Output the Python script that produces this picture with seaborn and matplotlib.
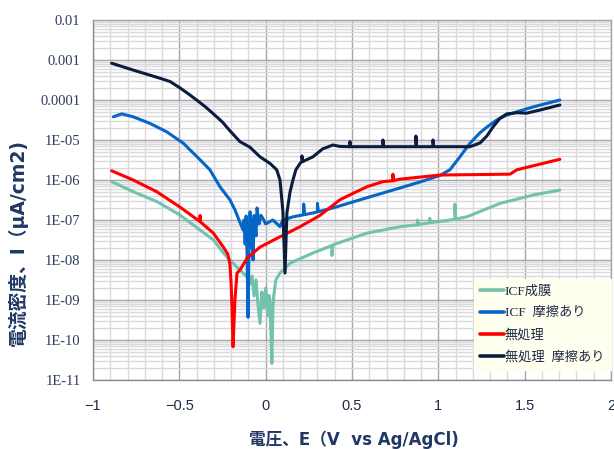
import matplotlib
matplotlib.use("Agg")
import matplotlib.pyplot as plt
import matplotlib.ticker as mticker
import numpy as np
import pandas as pd
import seaborn as sns

# Estilo
sns.set_style("white")
plt.rcParams['font.family'] = ['Liberation Sans', 'Noto Sans CJK JP', 'DejaVu Sans']

# --- datos: potencial E (V) y densidad de corriente I ---
series_names = ['ICF成膜', 'ICF  摩擦あり', '無処理', '無処理  摩擦あり']
series_colors = ['#72C2AC', '#0566C8', '#FF0000', '#0B1D3C']

e_icf = [-0.892, -0.767, -0.631, -0.496, -0.380, -0.303, -0.245, -0.207, -0.149,
         -0.108, -0.091, -0.079, -0.068, -0.056, -0.045, -0.033, -0.022, -0.010,
         0.001, 0.013, 0.019, 0.024, 0.036, 0.042, 0.047, 0.059, 0.083, 0.141,
         0.274, 0.384, 0.384, 0.390, 0.587, 0.778, 0.880, 0.880, 0.885, 0.950,
         0.950, 0.955, 1.067, 1.096, 1.096, 1.100, 1.165, 1.357, 1.548, 1.704]
i_icf = [9.1e-7, 5.1e-7, 2.9e-7, 1.33e-7, 5.6e-8, 3.2e-8, 1.5e-8, 1.0e-8, 5.6e-9,
         3.8e-9, 2.5e-9, 4.0e-9, 1.26e-9, 3.2e-9, 8.0e-10, 2.6e-10, 1.6e-9, 6.3e-10,
         2.0e-9, 4.0e-10, 1.3e-9, 1.0e-9, 2.6e-11, 6.3e-10, 1.3e-9, 3.2e-9, 4.7e-9, 8.3e-9,
         1.5e-8, 2.3e-8, 1.3e-8, 2.4e-8, 4.7e-8, 6.8e-8, 7.6e-8, 1.0e-7, 7.7e-8, 8.5e-8,
         1.1e-7, 8.6e-8, 1.0e-7, 1.05e-7, 2.5e-7, 1.06e-7, 1.2e-7, 2.6e-7, 4.2e-7, 5.6e-7]

e_icf_fric = [-0.882, -0.834, -0.767, -0.670, -0.573, -0.477, -0.380, -0.323, -0.265,
              -0.207, -0.178, -0.131, -0.125, -0.119, -0.113, -0.108, -0.102, -0.096,
              -0.090, -0.085, -0.079, -0.073, -0.067, -0.056, -0.050, -0.038, -0.027,
              -0.016, 0.000, 0.042, 0.083, 0.100, 0.158, 0.199, 0.220, 0.220, 0.225,
              0.274, 0.300, 0.300, 0.305, 0.390, 0.546, 0.737, 0.893, 1.009, 1.067,
              1.125, 1.183, 1.240, 1.281, 1.340, 1.397, 1.470, 1.548, 1.704]
i_icf_fric = [3.8e-5, 4.5e-5, 3.8e-5, 2.6e-5, 1.6e-5, 8.3e-6, 3.2e-6, 1.8e-6, 6.8e-7,
              3.2e-7, 1.8e-7, 5.6e-8, 1.0e-7, 2.5e-8, 1.26e-7, 1.6e-8, 3.7e-10, 3.2e-8,
              1.6e-7, 2.0e-8, 1.0e-7, 1.0e-8, 1.3e-7, 4.0e-8, 2.0e-7, 8.0e-8, 1.3e-7,
              1.1e-7, 8.0e-8, 1.0e-7, 6.8e-8, 1.0e-7, 1.2e-7, 1.3e-7, 1.35e-7, 2.5e-7, 1.36e-7,
              1.5e-7, 1.6e-7, 2.6e-7, 1.62e-7, 2.0e-7, 3.2e-7, 5.6e-7, 8.9e-7, 1.3e-6, 1.8e-6,
              3.8e-6, 8.3e-6, 1.5e-5, 2.1e-5, 3.2e-5, 4.2e-5, 5.3e-5, 6.7e-5, 1.0e-4]

e_plain = [-0.892, -0.767, -0.631, -0.496, -0.380, -0.380, -0.378, -0.303, -0.245,
           -0.219, -0.207, -0.200, -0.195, -0.189, -0.178, -0.166, -0.149, -0.108,
           -0.033, 0.083, 0.199, 0.314, 0.430, 0.500, 0.587, 0.679, 0.737, 0.737,
           0.740, 0.778, 1.009, 1.415, 1.455, 1.704]
i_plain = [1.7e-6, 1.0e-6, 5.1e-7, 2.1e-7, 9.1e-8, 1.3e-7, 9.0e-8, 4.7e-8, 2.1e-8,
           1.4e-8, 7.9e-9, 2.5e-9, 6.3e-10, 6.8e-11, 1.0e-9, 4.7e-9, 5.6e-9, 1.1e-8,
           2.1e-8, 3.8e-8, 6.8e-8, 1.3e-7, 3.2e-7, 4.5e-7, 6.8e-7, 9.1e-7, 9.6e-7, 1.4e-6,
           9.7e-7, 1.05e-6, 1.33e-6, 1.4e-6, 1.8e-6, 3.3e-6]

e_plain_fric = [-0.892, -0.767, -0.612, -0.554, -0.496, -0.450, -0.400, -0.350, -0.300,
                -0.250, -0.207, -0.149, -0.091, -0.033, 0.025, 0.064, 0.083, 0.100,
                0.112, 0.123, 0.141, 0.158, 0.175, 0.199, 0.210, 0.210, 0.215, 0.274,
                0.330, 0.390, 0.430, 0.488, 0.488, 0.492, 0.679, 0.679, 0.683, 0.870,
                0.870, 0.874, 0.969, 0.969, 0.973, 1.183, 1.241, 1.281, 1.316, 1.357,
                1.397, 1.455, 1.513, 1.588, 1.704]
i_plain_fric = [8.3e-4, 5.6e-4, 3.5e-4, 2.9e-4, 2.0e-4, 1.45e-4, 1.0e-4, 6.8e-5, 4.4e-5,
                2.8e-5, 1.7e-5, 9.1e-6, 6.6e-6, 3.8e-6, 2.6e-6, 1.8e-6, 1.0e-6, 1.6e-7,
                4.7e-9, 1.5e-7, 5.0e-7, 1.0e-6, 1.8e-6, 2.6e-6, 2.9e-6, 4.0e-6, 2.9e-6, 3.8e-6,
                6.0e-6, 7.5e-6, 6.9e-6, 6.8e-6, 9.1e-6, 6.8e-6, 6.8e-6, 1.0e-5, 6.8e-6, 6.8e-6,
                1.26e-5, 6.8e-6, 6.8e-6, 1.0e-5, 6.8e-6, 6.8e-6, 8.4e-6, 1.26e-5, 2.1e-5, 3.5e-5,
                4.5e-5, 4.8e-5, 4.7e-5, 5.6e-5, 7.5e-5]

x_ticks = [-1, -0.5, 0, 0.5, 1, 1.5, 2]
x_tick_labels = ['\u22121', '\u22120.5', '0', '0.5', '1', '1.5', '2']
y_ticks = [1e-2, 1e-3, 1e-4, 1e-5, 1e-6, 1e-7, 1e-8, 1e-9, 1e-10, 1e-11]
y_tick_labels = ['0.01', '0.001', '0.0001', '1E-05', '1E-06', '1E-07', '1E-08',
                 '1E-09', '1E-10', '1E-11']

# tabla larga para seaborn
frames = []
for name, e, i in zip(series_names,
                      [e_icf, e_icf_fric, e_plain, e_plain_fric],
                      [i_icf, i_icf_fric, i_plain, i_plain_fric]):
    frames.append(pd.DataFrame({'E': e, 'I': i, 'serie': name}))
df = pd.concat(frames, ignore_index=True)

fig = plt.figure(figsize=(6.14, 4.49), dpi=100)
ax = fig.add_axes([93 / 614, 1 - 380 / 449, 518 / 614, 360 / 449])

ax.set_yscale('log')
ax.set_xlim(-1, 2)
ax.set_ylim(1e-11, 1e-2)

# cuadrícula estilo Excel
ax.xaxis.set_minor_locator(mticker.MultipleLocator(0.1))
ax.yaxis.set_minor_locator(mticker.LogLocator(base=10, subs=np.arange(2, 10), numticks=20))
ax.grid(True, which='minor', color='#D9D9DE', linewidth=1.0)
ax.grid(True, which='major', color='#A4A4AC', linewidth=1.0)
ax.set_axisbelow(True)

sns.lineplot(data=df, x='E', y='I', hue='serie', hue_order=series_names,
             palette=series_colors, sort=False, estimator=None, linewidth=2.2,
             ax=ax, legend=False)

ax.set_xticks(x_ticks)
ax.set_xticklabels(x_tick_labels, fontsize=10.5, color='#1F2A44',
                   family=['Liberation Sans'])
ax.set_yticks(y_ticks)
ax.set_yticklabels(y_tick_labels, fontsize=10.5, color='#2E3B5C',
                   family=['Liberation Serif'])
ax.yaxis.set_minor_formatter(mticker.NullFormatter())
ax.tick_params(axis='both', which='major', direction='out', length=5,
               color='#8C8C94', width=1)
ax.tick_params(axis='x', which='major', pad=9)
ax.tick_params(axis='y', which='major', pad=4)
ax.tick_params(axis='both', which='minor', length=0)

for side in ['left', 'bottom']:
    ax.spines[side].set_color('#8C8C94')
    ax.spines[side].set_linewidth(1)
for side in ['top', 'right']:
    ax.spines[side].set_color('#A4A4AC')
    ax.spines[side].set_linewidth(1)

# títulos de ejes
ax.set_xlabel('電圧、E（V  vs Ag/AgCl)', fontsize=12, fontweight='bold',
              color='#1F3864', family=['DejaVu Sans', 'Noto Sans CJK JP'])
ax.xaxis.label.set_va('center')
ax.xaxis.set_label_coords((354 - 93) / 518, (380 - 440) / 360)
ax.set_ylabel('電流密度、I（μA/cm2)', fontsize=13.5, fontweight='bold',
              color='#1F3864', family=['DejaVu Sans', 'Noto Sans CJK JP'])
ax.yaxis.label.set_va('center')
ax.yaxis.set_label_coords((18 - 93) / 518, (380 - 243) / 360)

# leyenda
handles = [plt.Line2D([], [], color=c, linewidth=2.6) for c in series_colors]
leg = ax.legend(handles, series_names, loc='lower right',
                bbox_to_anchor=(1.0, 0.028), frameon=True, fancybox=False,
                facecolor='#FFFFF0', edgecolor='#FFFFF0', framealpha=1,
                handlelength=1.8, handletextpad=0.05, labelspacing=0.7,
                borderpad=0.5, borderaxespad=0.0,
                prop={'family': ['Liberation Serif', 'Noto Sans CJK JP'], 'size': 9.5})
for t in leg.get_texts():
    t.set_color('#1F2A44')

fig.savefig('out.png', dpi=100)
